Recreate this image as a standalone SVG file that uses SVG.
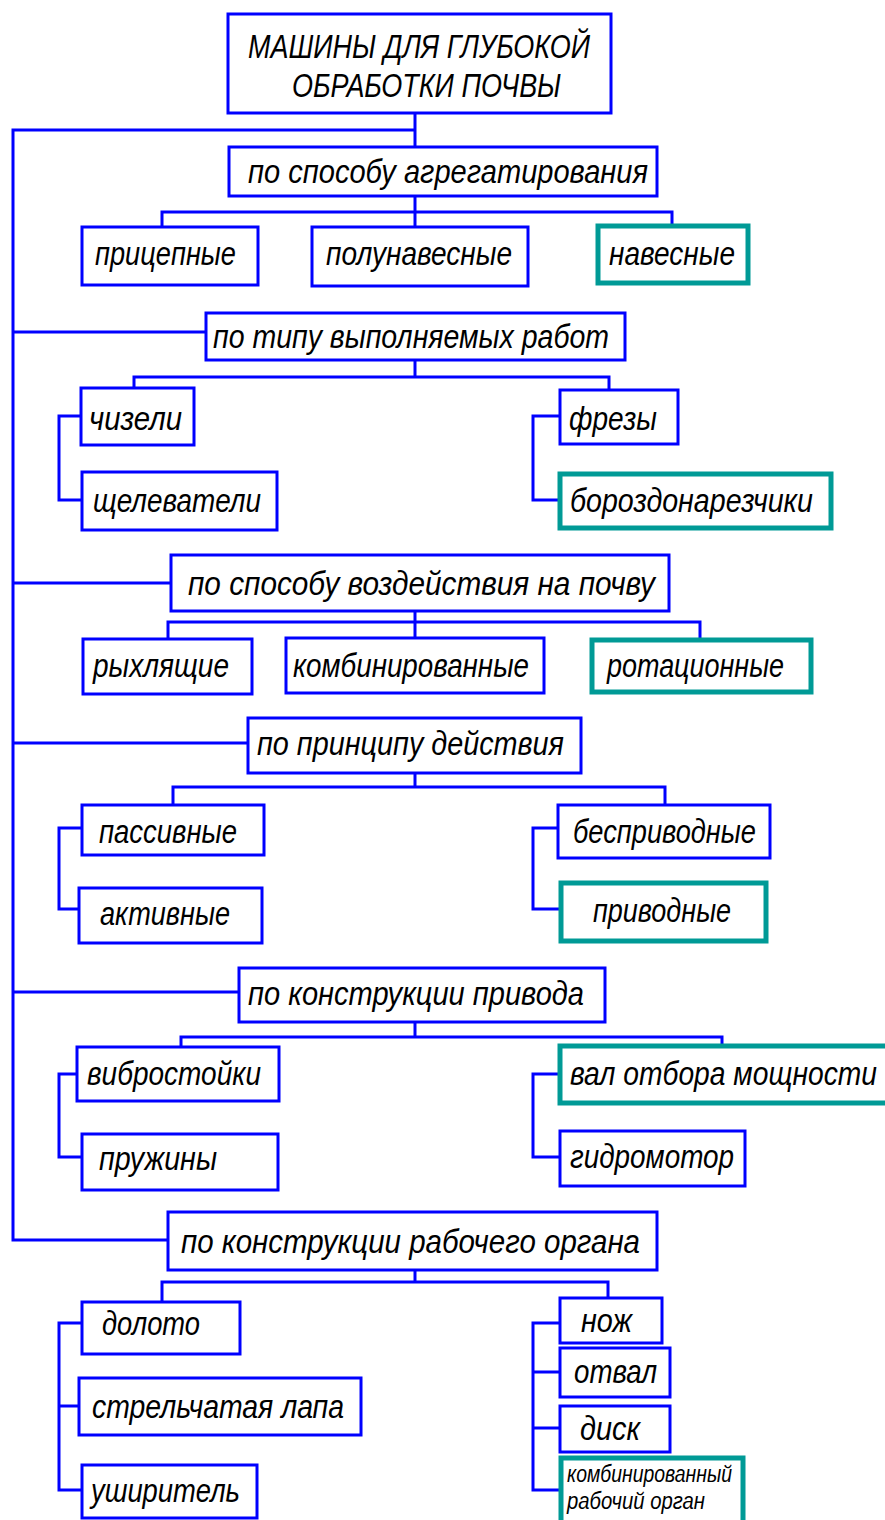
<svg xmlns="http://www.w3.org/2000/svg" width="885" height="1520" viewBox="0 0 885 1520">
<style>
.b{fill:#fff;stroke:#0000ff;stroke-width:3}
.t{fill:#fff;stroke:#009a96;stroke-width:5}
.c{fill:none;stroke:#0000ff;stroke-width:3}
text{font-family:"Liberation Sans",Arial,sans-serif;font-style:italic;font-size:34px;fill:#000}
.s{font-size:23px}
</style>
<rect width="885" height="1520" fill="#fff"/>
<g id="connectors" class="c">
<polyline points="415,113 415,147"/>
<polyline points="415,130 13,130 13,1240 168,1240"/>
<line x1="13" y1="332" x2="206" y2="332"/>
<line x1="13" y1="583" x2="171" y2="583"/>
<line x1="13" y1="743" x2="248" y2="743"/>
<line x1="13" y1="992" x2="239" y2="992"/>
<polyline points="415,196 415,227"/>
<polyline points="162,227 162,212 672,212 672,225"/>
<polyline points="415,360 415,377"/>
<polyline points="134,388 134,377 609,377 609,390"/>
<polyline points="81,416 59,416 59,500 82,500"/>
<polyline points="560,416 533,416 533,500 560,500"/>
<polyline points="415,611 415,638"/>
<polyline points="168,639 168,622 700,622 700,639"/>
<polyline points="415,773 415,787"/>
<polyline points="173,805 173,787 665,787 665,805"/>
<polyline points="82,828 59,828 59,909 79,909"/>
<polyline points="558,828 533,828 533,909 560,909"/>
<polyline points="415,1022 415,1037"/>
<polyline points="181,1047 181,1037 722,1037 722,1045"/>
<polyline points="77,1074 59,1074 59,1157 82,1157"/>
<polyline points="559,1074 533,1074 533,1157 560,1157"/>
<polyline points="415,1270 415,1282"/>
<polyline points="162,1302 162,1282 608,1282 608,1298"/>
<polyline points="82,1323 59,1323 59,1490 82,1490"/>
<line x1="59" y1="1406" x2="79" y2="1406"/>
<polyline points="560,1323 533,1323 533,1490 560,1490"/>
<line x1="533" y1="1372" x2="560" y2="1372"/>
<line x1="533" y1="1428" x2="560" y2="1428"/>
</g>
<g id="root"><rect class="b" x="228" y="14" width="383" height="99"/>
<text x="248" y="58" textLength="342" lengthAdjust="spacingAndGlyphs">МАШИНЫ ДЛЯ ГЛУБОКОЙ</text>
<text x="292" y="97" textLength="269" lengthAdjust="spacingAndGlyphs">ОБРАБОТКИ ПОЧВЫ</text></g>
<g id="n1"><rect class="b" x="229" y="147" width="428" height="49"/>
<text x="248" y="183" textLength="400" lengthAdjust="spacingAndGlyphs">по способу агрегатирования</text></g>
<g id="n1a"><rect class="b" x="82" y="227" width="176" height="58"/>
<text x="95" y="265" textLength="141" lengthAdjust="spacingAndGlyphs">прицепные</text></g>
<g id="n1b"><rect class="b" x="312" y="227" width="216" height="59"/>
<text x="326" y="265" textLength="186" lengthAdjust="spacingAndGlyphs">полунавесные</text></g>
<g id="n1c"><rect class="t" x="598" y="226" width="150" height="57"/>
<text x="609" y="265" textLength="126" lengthAdjust="spacingAndGlyphs">навесные</text></g>
<g id="n2"><rect class="b" x="206" y="313" width="419" height="47"/>
<text x="213" y="348" textLength="396" lengthAdjust="spacingAndGlyphs">по типу выполняемых работ</text></g>
<g id="n2a"><rect class="b" x="81" y="388" width="113" height="57"/>
<text x="89" y="430" textLength="93" lengthAdjust="spacingAndGlyphs">чизели</text></g>
<g id="n2b"><rect class="b" x="82" y="472" width="195" height="58"/>
<text x="93" y="512" textLength="168" lengthAdjust="spacingAndGlyphs">щелеватели</text></g>
<g id="n2c"><rect class="b" x="560" y="390" width="118" height="54"/>
<text x="569" y="430" textLength="88" lengthAdjust="spacingAndGlyphs">фрезы</text></g>
<g id="n2d"><rect class="t" x="560" y="474" width="271" height="54"/>
<text x="570" y="512" textLength="243" lengthAdjust="spacingAndGlyphs">бороздонарезчики</text></g>
<g id="n3"><rect class="b" x="171" y="555" width="498" height="56"/>
<text x="188" y="595" textLength="467" lengthAdjust="spacingAndGlyphs">по способу воздействия на почву</text></g>
<g id="n3a"><rect class="b" x="83" y="639" width="169" height="55"/>
<text x="93" y="677" textLength="136" lengthAdjust="spacingAndGlyphs">рыхлящие</text></g>
<g id="n3b"><rect class="b" x="286" y="638" width="258" height="55"/>
<text x="293" y="677" textLength="236" lengthAdjust="spacingAndGlyphs">комбинированные</text></g>
<g id="n3c"><rect class="t" x="592" y="640" width="219" height="52"/>
<text x="607" y="677" textLength="177" lengthAdjust="spacingAndGlyphs">ротационные</text></g>
<g id="n4"><rect class="b" x="248" y="718" width="333" height="55"/>
<text x="257" y="755" textLength="307" lengthAdjust="spacingAndGlyphs">по принципу действия</text></g>
<g id="n4a"><rect class="b" x="82" y="805" width="182" height="50"/>
<text x="99" y="843" textLength="138" lengthAdjust="spacingAndGlyphs">пассивные</text></g>
<g id="n4b"><rect class="b" x="79" y="888" width="183" height="55"/>
<text x="100" y="925" textLength="130" lengthAdjust="spacingAndGlyphs">активные</text></g>
<g id="n4c"><rect class="b" x="558" y="805" width="212" height="53"/>
<text x="573" y="843" textLength="183" lengthAdjust="spacingAndGlyphs">бесприводные</text></g>
<g id="n4d"><rect class="t" x="561" y="883" width="205" height="58"/>
<text x="593" y="922" textLength="138" lengthAdjust="spacingAndGlyphs">приводные</text></g>
<g id="n5"><rect class="b" x="239" y="968" width="366" height="54"/>
<text x="248" y="1005" textLength="336" lengthAdjust="spacingAndGlyphs">по конструкции привода</text></g>
<g id="n5a"><rect class="b" x="77" y="1047" width="202" height="54"/>
<text x="87" y="1085" textLength="174" lengthAdjust="spacingAndGlyphs">вибростойки</text></g>
<g id="n5b"><rect class="b" x="82" y="1134" width="196" height="56"/>
<text x="99" y="1170" textLength="118" lengthAdjust="spacingAndGlyphs">пружины</text></g>
<g id="n5c"><rect class="t" x="560" y="1046" width="340" height="57"/>
<text x="570" y="1085" textLength="307" lengthAdjust="spacingAndGlyphs">вал отбора мощности</text></g>
<g id="n5d"><rect class="b" x="560" y="1131" width="185" height="55"/>
<text x="570" y="1168" textLength="164" lengthAdjust="spacingAndGlyphs">гидромотор</text></g>
<g id="n6"><rect class="b" x="168" y="1212" width="489" height="58"/>
<text x="181" y="1253" textLength="459" lengthAdjust="spacingAndGlyphs">по конструкции рабочего органа</text></g>
<g id="n6a"><rect class="b" x="82" y="1302" width="158" height="52"/>
<text x="102" y="1335" textLength="98" lengthAdjust="spacingAndGlyphs">долото</text></g>
<g id="n6b"><rect class="b" x="79" y="1378" width="282" height="57"/>
<text x="92" y="1418" textLength="252" lengthAdjust="spacingAndGlyphs">стрельчатая лапа</text></g>
<g id="n6c"><rect class="b" x="82" y="1465" width="175" height="53"/>
<text x="91" y="1502" textLength="149" lengthAdjust="spacingAndGlyphs">уширитель</text></g>
<g id="n6d"><rect class="b" x="560" y="1298" width="102" height="45"/>
<text x="581" y="1332" textLength="51" lengthAdjust="spacingAndGlyphs">нож</text></g>
<g id="n6e"><rect class="b" x="560" y="1348" width="110" height="49"/>
<text x="574" y="1383" textLength="83" lengthAdjust="spacingAndGlyphs">отвал</text></g>
<g id="n6f"><rect class="b" x="560" y="1406" width="110" height="46"/>
<text x="580" y="1440" textLength="60" lengthAdjust="spacingAndGlyphs">диск</text></g>
<g id="n6g"><rect class="t" x="561" y="1458" width="182" height="70"/>
<text class="s" x="567" y="1482" textLength="165" lengthAdjust="spacingAndGlyphs">комбинированный</text>
<text class="s" x="567" y="1509" textLength="138" lengthAdjust="spacingAndGlyphs">рабочий орган</text></g>
</svg>
